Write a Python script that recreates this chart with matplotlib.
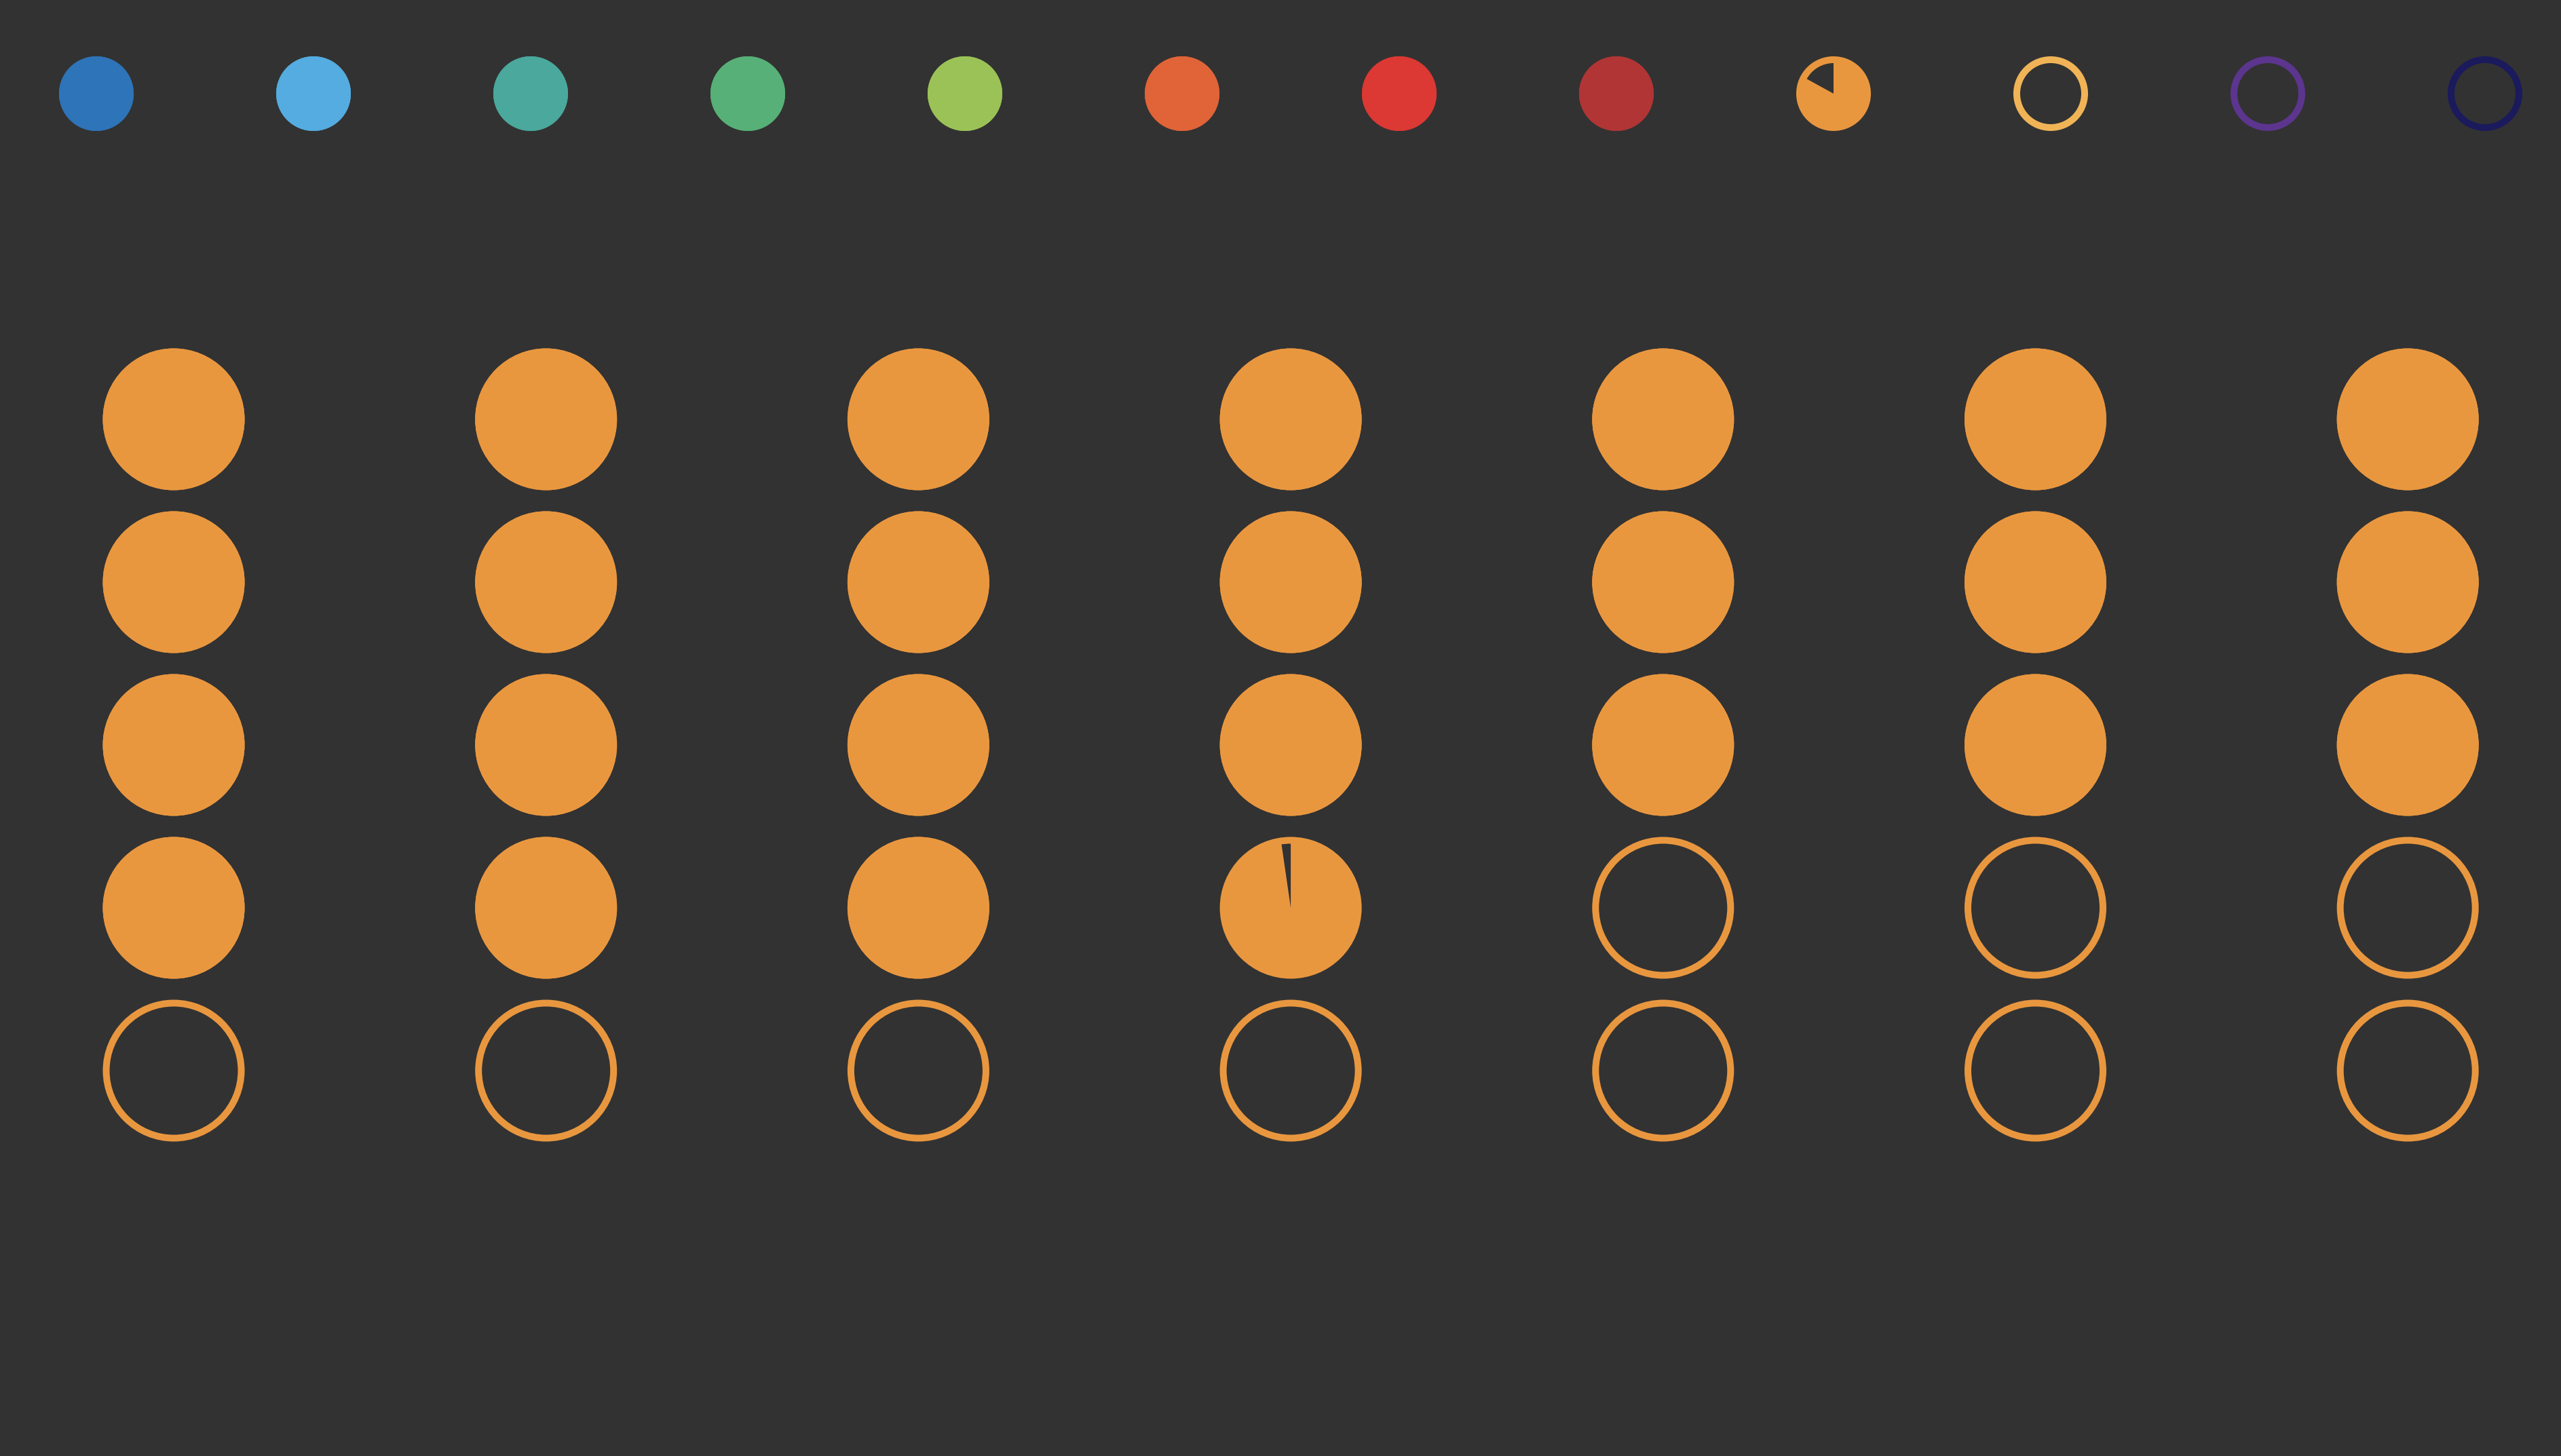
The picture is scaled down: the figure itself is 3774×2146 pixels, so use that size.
import matplotlib
matplotlib.use("Agg")
import matplotlib.pyplot as plt
from matplotlib.patches import Circle, Wedge

# top row: palette swatches and how full each one is
top_colors = ["#2E74B8", "#54ACE0", "#4AA89C", "#57B077", "#9BC257", "#E06438",
              "#DC3834", "#B13535", "#E9973F", "#F0B457", "#5C358F", "#1B1A5C"]
top_fill = [1, 1, 1, 1, 1, 1, 1, 1, 0.83, 0, 0, 0]

# grid: value per column, out of 5 circles each
col_values = [4, 4, 4, 3.977, 3, 3, 3]
n_rows = 5
grid_color = "#E9973F"
bg = "#323232"

W, H = 3774, 2146
fig = plt.figure(figsize=(W / 100, H / 100), dpi=100, facecolor=bg)
ax = fig.add_axes([0, 0, 1, 1])
ax.set_facecolor(bg)
ax.set_xlim(0, W)
ax.set_ylim(0, H)
ax.set_aspect("equal")
ax.axis("off")

lw = 10 * 72 / 100  # 10 px ring


def token(x, y, r, color, f):
    # ring drawn on the middle of the stroke, wedge fills the share
    y = H - y
    ax.add_patch(Circle((x, y), r, facecolor="none", edgecolor=color, lw=lw))
    if f >= 1:
        ax.add_patch(Circle((x, y), r, facecolor=color, edgecolor=color, lw=lw))
    elif f > 0:
        ax.add_patch(Wedge((x, y), r, 90 - 360 * f, 90, facecolor=color,
                           edgecolor="none"))


for i, (c, f) in enumerate(zip(top_colors, top_fill)):
    token(142 + 320 * i, 138, 50, c, f)

for j, v in enumerate(col_values):
    for i in range(n_rows):
        f = min(max(v - i, 0), 1)
        token(256 + 548.7 * j, 618 + 240 * i, 99.5, grid_color, f)

fig.savefig("out.png", dpi=100, facecolor=bg)
